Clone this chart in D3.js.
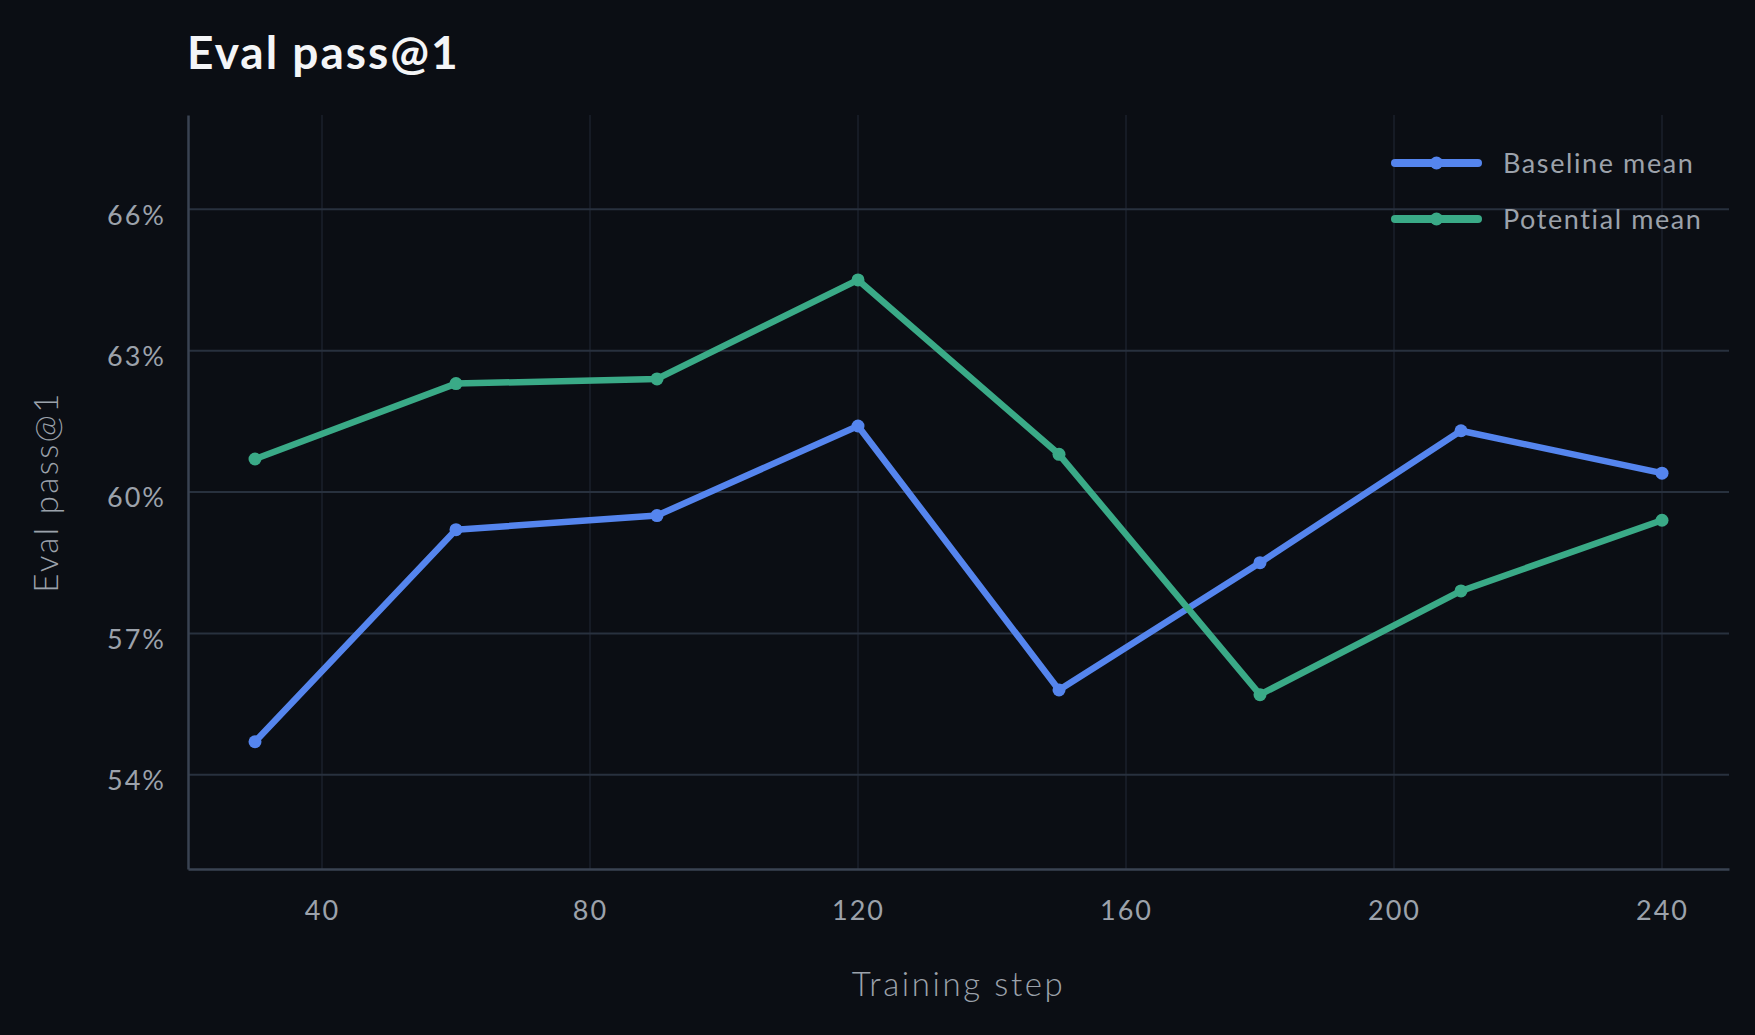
<!DOCTYPE html>
<html>
<head>
<meta charset="utf-8">
<script src="https://cdn.jsdelivr.net/npm/d3@7"></script>
<style>
  html, body { margin: 0; padding: 0; background: #0b0e14; }
  svg { display: block; font-family: Lato, "Noto Sans", sans-serif; }
</style>
</head>
<body>
<div id="chart"></div>
<script>
// Data
var steps = [30, 60, 90, 120, 150, 180, 210, 240];
var baselineMean = [0.547, 0.592, 0.595, 0.614, 0.558, 0.585, 0.613, 0.604];
var potentialMean = [0.607, 0.623, 0.624, 0.645, 0.608, 0.557, 0.579, 0.594];
var xTicks = [40, 80, 120, 160, 200, 240];
var yTicks = [0.54, 0.57, 0.60, 0.63, 0.66];
var seriesNames = ["Baseline mean", "Potential mean"];
var seriesColors = ["#5585ee", "#3aaa87"];

const W = 1755, H = 1035;
const margin = { top: 115, right: 26, bottom: 166, left: 188 };
const width = W - margin.left - margin.right;
const height = H - margin.top - margin.bottom;

const svg = d3.select("#chart")
    .append("svg")
    .attr("width", W)
    .attr("height", H);

svg.append("rect").attr("width", W).attr("height", H).attr("fill", "#0b0e14");

// Title
svg.append("text")
    .attr("x", margin.left - 1)
    .attr("y", 69)
    .attr("fill", "#f4f5f7")
    .style("font-size", "46px")
    .style("font-weight", 700)
    .style("letter-spacing", "2px")
    .text("Eval pass@1");

const g = svg.append("g")
    .attr("transform", `translate(${margin.left}, ${margin.top})`);

const x = d3.scaleLinear().domain([20, 250]).range([0, width]);
const y = d3.scaleLinear().domain([0.52, 0.68]).range([height, 0]);

// Grid
g.append("g")
    .selectAll("line")
    .data(xTicks)
    .join("line")
    .attr("x1", d => x(d)).attr("x2", d => x(d))
    .attr("y1", 0).attr("y2", height)
    .attr("stroke", "#1b212b")
    .attr("stroke-width", 1.5);
g.append("g")
    .selectAll("line")
    .data(yTicks)
    .join("line")
    .attr("x1", 0).attr("x2", width)
    .attr("y1", d => y(d)).attr("y2", d => y(d))
    .attr("stroke", "#28313e")
    .attr("stroke-width", 2);

// Axes
const xAxis = g.append("g")
    .attr("transform", `translate(0, ${height})`)
    .call(d3.axisBottom(x).tickValues(xTicks).tickSize(0).tickPadding(32));
const yAxis = g.append("g")
    .call(d3.axisLeft(y).tickValues(yTicks).tickFormat(d3.format(".0%")).tickSize(0).tickPadding(22));

[xAxis, yAxis].forEach(a => {
    a.select(".domain").attr("stroke", "#3a4352").attr("stroke-width", 2.5);
    a.selectAll("text")
        .attr("fill", "#9ca2ab")
        .style("font-size", "27px")
        .style("font-family", "Lato, sans-serif")
        .style("font-weight", 400)
        .style("letter-spacing", "2px");
});
yAxis.selectAll("text").attr("dy", "0.55em");

// Axis labels
svg.append("text")
    .attr("x", margin.left + width / 2)
    .attr("y", 996)
    .attr("text-anchor", "middle")
    .attr("fill", "#9ca2ab")
    .style("font-size", "33px")
    .style("font-weight", 300)
    .style("letter-spacing", "2.6px")
    .text("Training step");
svg.append("text")
    .attr("transform", `translate(58, ${margin.top + height / 2}) rotate(-90)`)
    .attr("text-anchor", "middle")
    .attr("fill", "#9ca2ab")
    .style("font-size", "33px")
    .style("font-weight", 300)
    .style("letter-spacing", "2.4px")
    .text("Eval pass@1");

// Lines
const series = [baselineMean, potentialMean];
const line = d3.line()
    .x((d, i) => x(steps[i]))
    .y(d => y(d));

series.forEach((vals, k) => {
    g.append("path")
        .datum(vals)
        .attr("fill", "none")
        .attr("stroke", seriesColors[k])
        .attr("stroke-width", 6.5)
        .attr("stroke-linejoin", "round")
        .attr("d", line);
    g.append("g")
        .selectAll("circle")
        .data(vals)
        .join("circle")
        .attr("cx", (d, i) => x(steps[i]))
        .attr("cy", d => y(d))
        .attr("r", 6.5)
        .attr("fill", seriesColors[k]);
});

// Legend
const legend = svg.append("g").attr("transform", "translate(1391, 163)");
seriesNames.forEach((name, k) => {
    const row = legend.append("g").attr("transform", `translate(0, ${k * 56})`);
    row.append("line")
        .attr("x1", 4).attr("x2", 87)
        .attr("stroke", seriesColors[k])
        .attr("stroke-width", 8)
        .attr("stroke-linecap", "round");
    row.append("circle")
        .attr("cx", 45.5).attr("r", 6.5)
        .attr("fill", seriesColors[k]);
    row.append("text")
        .attr("x", 112)
        .attr("y", 10)
        .attr("fill", "#9ca2ab")
        .style("font-size", "27px")
        .style("font-weight", 400)
        .style("letter-spacing", "1.6px")
        .text(name);
});
</script>
</body>
</html>
